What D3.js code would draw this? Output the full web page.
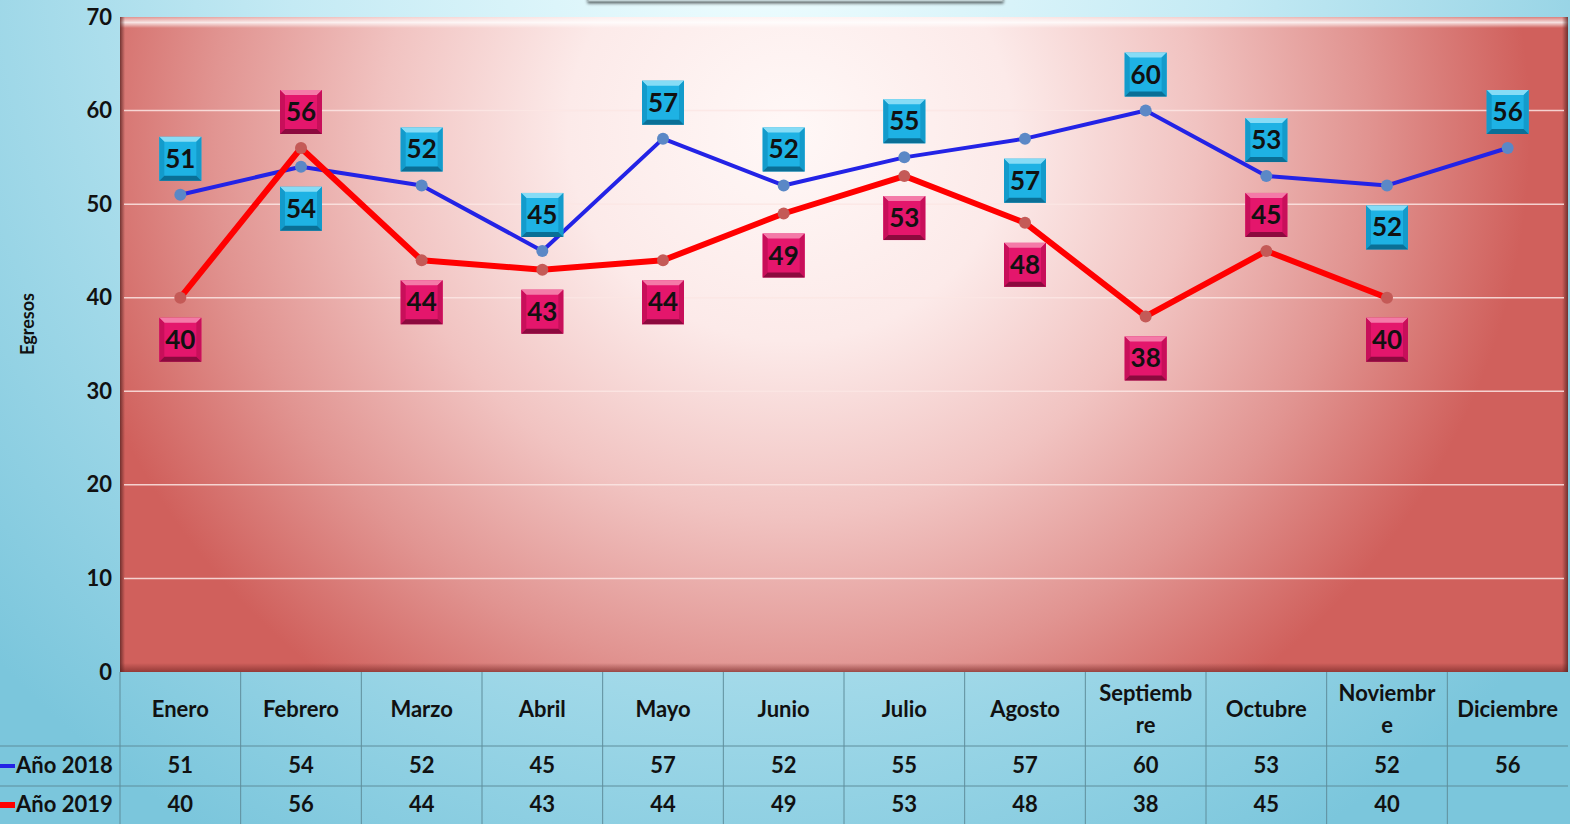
<!DOCTYPE html>
<html>
<head>
<meta charset="utf-8">
<script src="https://cdn.jsdelivr.net/npm/d3@7"></script>
<style>
  html, body { margin: 0; padding: 0; overflow: hidden; }
  svg { display: block; font-family: Lato, "Open Sans", sans-serif; font-weight: bold; }
</style>
</head>
<body>
<script>
// data
var months = ["Enero", "Febrero", "Marzo", "Abril", "Mayo", "Junio", "Julio", "Agosto", "Septiembre", "Octubre", "Noviembre", "Diciembre"];
var monthLines = [["Enero"], ["Febrero"], ["Marzo"], ["Abril"], ["Mayo"], ["Junio"], ["Julio"], ["Agosto"], ["Septiemb", "re"], ["Octubre"], ["Noviembr", "e"], ["Diciembre"]];
var values2018 = [51, 54, 52, 45, 57, 52, 55, 57, 60, 53, 52, 56];
var values2019 = [40, 56, 44, 43, 44, 49, 53, 48, 38, 45, 40, null];
var labelSide2018 = ["up", "down", "up", "up", "up", "up", "up", "down", "up", "up", "down", "up"];
var labelSide2019 = ["down", "up", "down", "down", "down", "down", "down", "down", "down", "up", "down", null];
var seriesNames = ["Año 2018", "Año 2019"];
var yTicks = [0, 10, 20, 30, 40, 50, 60, 70];

var W = 1570, H = 824;
var plot = {left: 120, right: 1568, top: 17, bottom: 672};

var svg = d3.select("body").append("svg")
    .attr("width", W)
    .attr("height", H);

var defs = svg.append("defs");

// page background
var bg = defs.append("radialGradient").attr("id", "bg")
    .attr("gradientUnits", "userSpaceOnUse")
    .attr("cx", 760).attr("cy", -60).attr("r", 1050);
bg.append("stop").attr("offset", 0).attr("stop-color", "#f0feff");
bg.append("stop").attr("offset", 0.45).attr("stop-color", "#c4eaf4");
bg.append("stop").attr("offset", 1).attr("stop-color", "#7bc6dc");

// plot area background
var pg = defs.append("radialGradient").attr("id", "plotbg")
    .attr("gradientUnits", "userSpaceOnUse")
    .attr("cx", 790).attr("cy", 130).attr("r", 740)
    .attr("gradientTransform", "translate(790,130) scale(1,0.95) translate(-790,-130)");
pg.append("stop").attr("offset", 0).attr("stop-color", "#fff8f7");
pg.append("stop").attr("offset", 0.3).attr("stop-color", "#fceae9");
pg.append("stop").attr("offset", 0.55).attr("stop-color", "#f1c3c1");
pg.append("stop").attr("offset", 0.78).attr("stop-color", "#e19491");
pg.append("stop").attr("offset", 1).attr("stop-color", "#d0605c");

var topShine = defs.append("linearGradient").attr("id", "topShine")
    .attr("x1", 0).attr("y1", 0).attr("x2", 0).attr("y2", 1);
topShine.append("stop").attr("offset", 0).attr("stop-color", "#ffffff").attr("stop-opacity", 0.2);
topShine.append("stop").attr("offset", 0.5).attr("stop-color", "#ffffff").attr("stop-opacity", 0.8);
topShine.append("stop").attr("offset", 1).attr("stop-color", "#ffffff").attr("stop-opacity", 0);

var bottomShade = defs.append("linearGradient").attr("id", "bottomShade")
    .attr("x1", 0).attr("y1", 0).attr("x2", 0).attr("y2", 1);
bottomShade.append("stop").attr("offset", 0).attr("stop-color", "#7a2a28").attr("stop-opacity", 0);
bottomShade.append("stop").attr("offset", 1).attr("stop-color", "#7a2a28").attr("stop-opacity", 0.7);

var sideShade = defs.append("linearGradient").attr("id", "sideShade")
    .attr("x1", 0).attr("y1", 0).attr("x2", 1).attr("y2", 0);
sideShade.append("stop").attr("offset", 0).attr("stop-color", "#5a2422").attr("stop-opacity", 0.8);
sideShade.append("stop").attr("offset", 1).attr("stop-color", "#5a2422").attr("stop-opacity", 0);

var shadow = defs.append("filter").attr("id", "shadow")
    .attr("x", "-5%").attr("y", "-50%").attr("width", "110%").attr("height", "200%");
shadow.append("feGaussianBlur").attr("in", "SourceAlpha").attr("stdDeviation", 1.5).attr("result", "b");
shadow.append("feOffset").attr("in", "b").attr("dy", 2).attr("result", "o");
shadow.append("feComponentTransfer").attr("in", "o").attr("result", "s")
    .append("feFuncA").attr("type", "linear").attr("slope", 0.6);
var merge = shadow.append("feMerge");
merge.append("feMergeNode").attr("in", "s");
merge.append("feMergeNode").attr("in", "SourceGraphic");

svg.append("rect")
    .attr("width", W).attr("height", H)
    .attr("fill", "url(#bg)");

// title box, only its lower edge shows
svg.append("rect")
    .attr("x", 588).attr("y", -40).attr("width", 415).attr("height", 41)
    .attr("fill", "#e8fbfd")
    .attr("stroke", "#9aa7aa")
    .attr("filter", "url(#shadow)");

// scales
var x = d3.scaleBand().domain(months).range([plot.left, plot.right]);
var y = d3.scaleLinear().domain([0, 70]).range([plot.bottom, plot.top]);
var cx = function (m) { return x(m) + x.bandwidth() / 2; };

// plot area
svg.append("rect")
    .attr("x", plot.left).attr("y", plot.top)
    .attr("width", plot.right - plot.left).attr("height", plot.bottom - plot.top)
    .attr("fill", "url(#plotbg)");
svg.append("rect")
    .attr("x", plot.left).attr("y", plot.top)
    .attr("width", plot.right - plot.left).attr("height", 11)
    .attr("fill", "url(#topShine)");
svg.append("rect")
    .attr("x", plot.left).attr("y", plot.bottom - 9)
    .attr("width", plot.right - plot.left).attr("height", 9)
    .attr("fill", "url(#bottomShade)");
svg.append("rect")
    .attr("x", plot.left).attr("y", plot.top)
    .attr("width", 5).attr("height", plot.bottom - plot.top)
    .attr("fill", "url(#sideShade)");
svg.append("rect")
    .attr("x", plot.right - 6).attr("y", plot.top)
    .attr("width", 6).attr("height", plot.bottom - plot.top)
    .attr("fill", "url(#sideShade)")
    .attr("transform", "translate(" + (2 * plot.right - 6) + ",0) scale(-1,1)");

// grid lines
svg.append("g")
    .selectAll("line")
    .data(yTicks.filter(function (t) { return t > 0 && t < 70; }))
    .enter().append("line")
    .attr("x1", plot.left + 4).attr("x2", plot.right - 4)
    .attr("y1", function (d) { return y(d); })
    .attr("y2", function (d) { return y(d); })
    .attr("stroke", "#fbe6e4")
    .attr("stroke-opacity", 0.85)
    .attr("stroke-width", 1.5);

// y axis tick labels
var yAxis = svg.append("g")
    .attr("transform", "translate(" + (plot.left - 8) + ",0)")
    .call(d3.axisLeft(y).tickValues(yTicks).tickSize(0).tickPadding(0));
yAxis.select(".domain").remove();
yAxis.selectAll("text")
    .attr("font-family", "Lato, sans-serif")
    .attr("font-weight", "bold")
    .attr("font-size", 22)
    .attr("fill", "#111");

svg.append("text")
    .attr("transform", "translate(34,324) rotate(-90)")
    .attr("text-anchor", "middle")
    .attr("font-size", 18)
    .attr("fill", "#111")
    .text("Egresos");

// data table below the plot
var tableTop = plot.bottom, row1 = 746, row2 = 786, tableBottom = H;
var grid = svg.append("g").attr("stroke", "#5f8e9c").attr("stroke-width", 1);
grid.append("line").attr("x1", 0).attr("x2", plot.right).attr("y1", row1).attr("y2", row1);
grid.append("line").attr("x1", 0).attr("x2", plot.right).attr("y1", row2).attr("y2", row2);
grid.selectAll("line.v")
    .data(months)
    .enter().append("line")
    .attr("class", "v")
    .attr("x1", function (d) { return x(d); })
    .attr("x2", function (d) { return x(d); })
    .attr("y1", tableTop).attr("y2", tableBottom);

var header = svg.append("g").selectAll("text")
    .data(months)
    .enter().append("text")
    .attr("text-anchor", "middle")
    .attr("font-size", 22)
    .attr("fill", "#111")
    .attr("x", function (d) { return cx(d); })
    .attr("y", function (d, i) { return monthLines[i].length > 1 ? 701 : 717; });
header.each(function (d, i) {
    var t = d3.select(this);
    monthLines[i].forEach(function (s, j) {
        t.append("tspan").attr("x", cx(d)).attr("dy", j === 0 ? 0 : 32).text(s);
    });
});

var rows = [
    {name: seriesNames[0], values: values2018, color: "#2323e6", width: 4, y: 773},
    {name: seriesNames[1], values: values2019, color: "#ff0000", width: 6, y: 812}
];
rows.forEach(function (r) {
    svg.append("line")
        .attr("x1", 0).attr("x2", 15)
        .attr("y1", r.y - 7).attr("y2", r.y - 7)
        .attr("stroke", r.color).attr("stroke-width", r.width);
    svg.append("text")
        .attr("x", 16).attr("y", r.y)
        .attr("font-size", 22).attr("fill", "#111")
        .text(r.name);
    svg.append("g").selectAll("text")
        .data(r.values)
        .enter().append("text")
        .attr("text-anchor", "middle")
        .attr("font-size", 22).attr("fill", "#111")
        .attr("x", function (d, i) { return cx(months[i]); })
        .attr("y", r.y)
        .text(function (d) { return d == null ? "" : d; });
});

// lines
var line = d3.line()
    .defined(function (d) { return d != null; })
    .x(function (d, i) { return cx(months[i]); })
    .y(function (d) { return y(d); });

svg.append("path")
    .datum(values2018)
    .attr("fill", "none")
    .attr("stroke", "#2323e6")
    .attr("stroke-width", 4)
    .attr("stroke-linejoin", "round")
    .attr("d", line);
svg.append("path")
    .datum(values2019)
    .attr("fill", "none")
    .attr("stroke", "#ff0000")
    .attr("stroke-width", 6)
    .attr("stroke-linejoin", "round")
    .attr("d", line);

// markers
function dots(values, color) {
    svg.append("g").selectAll("circle")
        .data(values.map(function (v, i) { return {v: v, m: months[i]}; }).filter(function (d) { return d.v != null; }))
        .enter().append("circle")
        .attr("cx", function (d) { return cx(d.m); })
        .attr("cy", function (d) { return y(d.v); })
        .attr("r", 6)
        .attr("fill", color);
}
dots(values2018, "#5b88c6");
dots(values2019, "#c45a57");

// bevelled data labels
var boxW = 42, boxH = 44, bev = 5;
function labels(values, sides, c) {
    values.forEach(function (v, i) {
        if (v == null) return;
        var px = cx(months[i]);
        var py = y(v) + (sides[i] === "up" ? -36 : 42);
        var x0 = px - boxW / 2, y0 = py - boxH / 2, x1 = x0 + boxW, y1 = y0 + boxH;
        var g = svg.append("g");
        g.append("rect")
            .attr("x", x0).attr("y", y0).attr("width", boxW).attr("height", boxH)
            .attr("fill", c.main);
        g.append("polygon")
            .attr("points", [[x0, y0], [x1, y0], [x1 - bev, y0 + bev], [x0 + bev, y0 + bev]].join(" "))
            .attr("fill", c.light);
        g.append("polygon")
            .attr("points", [[x0, y0], [x0 + bev, y0 + bev], [x0 + bev, y1 - bev], [x0, y1]].join(" "))
            .attr("fill", c.side);
        g.append("polygon")
            .attr("points", [[x1, y0], [x1, y1], [x1 - bev, y1 - bev], [x1 - bev, y0 + bev]].join(" "))
            .attr("fill", c.side);
        g.append("polygon")
            .attr("points", [[x0, y1], [x1, y1], [x1 - bev, y1 - bev], [x0 + bev, y1 - bev]].join(" "))
            .attr("fill", c.dark);
        g.append("text")
            .attr("x", px).attr("y", py + 9)
            .attr("text-anchor", "middle")
            .attr("font-size", 26)
            .attr("fill", "#111")
            .text(v);
    });
}
labels(values2018, labelSide2018, {main: "#1eb2e4", light: "#86dcf6", side: "#139bcb", dark: "#0a6f96"});
labels(values2019, labelSide2019, {main: "#e4166c", light: "#f47aa8", side: "#c80f5a", dark: "#8c0a3e"});
</script>
</body>
</html>
